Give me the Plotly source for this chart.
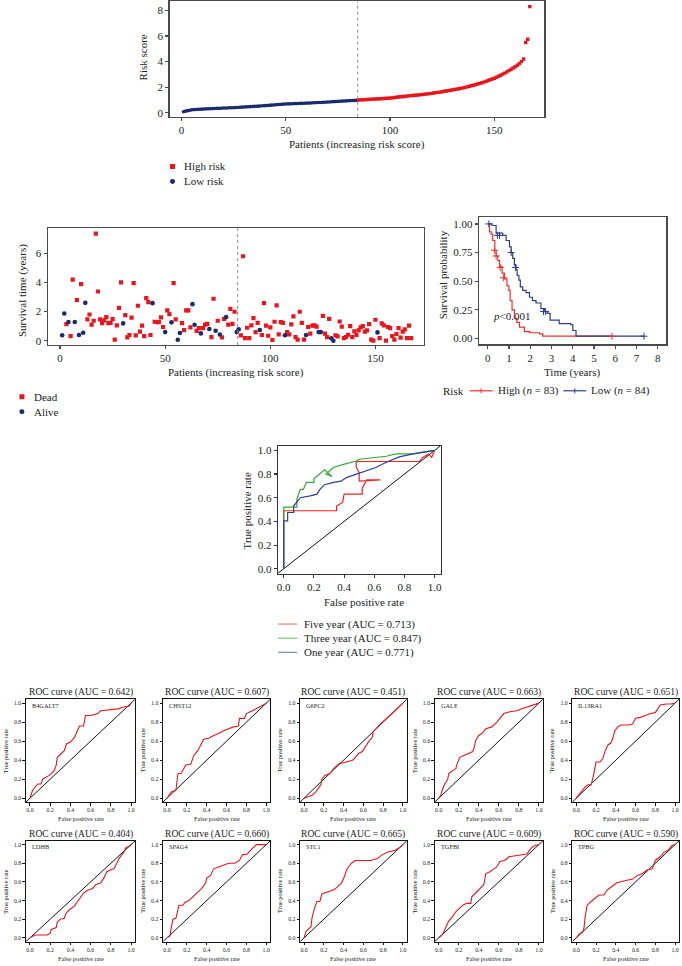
import plotly.graph_objects as go

W, H = 682, 966
FONT = "Liberation Serif"
RED = "#e8161c"
NAVY = "#1a2a6c"
TXT = "#222222"
FS = 11

# ---------------- data ----------------
risk_low = [0.08,0.13,0.17,0.20,0.23,0.25,0.26,0.27,0.28,0.29,
            0.30,0.31,0.32,0.32,0.33,0.34,0.35,0.35,0.36,0.37,
            0.37,0.38,0.39,0.40,0.40,0.41,0.42,0.43,0.44,0.45,
            0.46,0.47,0.48,0.49,0.50,0.51,0.52,0.53,0.55,0.56,
            0.57,0.58,0.60,0.61,0.62,0.64,0.65,0.66,0.68,0.69,
            0.70,0.70,0.71,0.72,0.72,0.73,0.74,0.74,0.75,0.76,
            0.76,0.77,0.78,0.79,0.80,0.80,0.81,0.82,0.83,0.84,
            0.85,0.86,0.87,0.88,0.89,0.90,0.91,0.92,0.93,0.94,
            0.95,0.96,0.97,0.98]
risk_high = [1.00,1.01,1.02,1.03,1.04,1.05,1.06,1.07,1.08,1.09,
             1.10,1.11,1.12,1.13,1.14,1.15,1.17,1.19,1.21,1.23,
             1.25,1.27,1.28,1.30,1.32,1.34,1.35,1.37,1.38,1.40,
             1.42,1.44,1.46,1.48,1.50,1.52,1.55,1.58,1.60,1.62,
             1.65,1.68,1.70,1.73,1.76,1.79,1.82,1.85,1.88,1.91,
             1.95,1.99,2.03,2.07,2.11,2.15,2.20,2.25,2.30,2.35,
             2.40,2.46,2.52,2.58,2.64,2.70,2.78,2.86,2.94,3.02,
             3.10,3.20,3.30,3.40,3.50,3.60,3.72,3.85,4.00,4.20,
             5.50,5.75,8.30]

surv_time = [0.37,1.87,1.14,1.28,0.32,4.2,1.28,2.78,0.39,3.88,0.55,2.6,1.46,1.8,1.1,1.37,7.35,3.38,1.46,1.21,
             1.39,1.62,1.21,1.23,1.48,0.07,1.05,2.26,4.0,1.19,1.76,0.23,0.39,1.58,3.95,0.37,2.4,0.62,1.03,0.32,
             2.92,2.65,0.39,2.58,1.3,1.28,1.28,1.6,0.94,0.59,2.08,1.83,1.26,3.95,1.46,0.07,0.53,1.21,0.73,2.08,
             2.08,0.91,2.51,1.1,0.68,0.87,0.5,0.87,1.1,1.16,0.8,0.25,2.88,0.68,1.37,0.43,0.23,1.5,1.62,1.1,
             2.19,1.16,1.99,0.59,0.78,0.37,5.8,0.18,0.89,0.18,1.05,1.55,0.59,1.23,0.73,0.39,2.58,1.03,0.34,0.91,
             0.05,1.3,2.42,0.43,1.28,1.23,0.37,0.59,0.43,1.12,1.67,0.25,0.07,1.99,1.23,0.07,0.39,0.94,0.48,1.03,
             1.05,0.96,0.59,0.59,1.71,0.48,0.25,1.5,0.16,0.0,0.37,0.3,1.32,0.96,0.18,0.25,0.41,1.0,0.25,0.64,
             0.39,0.71,0.91,1.0,0.62,0.71,1.14,0.07,0.0,1.44,0.57,0.18,1.19,1.05,0.0,0.94,0.87,0.32,0.07,0.46,
             0.87,0.21,0.62,0.78,0.18,1.03,0.18]
alive_patients = [1,2,4,7,9,11,12,30,44,50,53,56,57,63,64,67,71,74,76,79,84,85,95,107,117,123,124,129,130,151]

km_high_t = [0,0.08,0.16,0.23,0.33,0.39,0.47,0.55,0.67,0.78,0.9,0.99,1.05,1.14,1.25,1.36,1.49,1.72,1.96,2.43,2.58,5.84]
km_high_s = [1.0,0.93,0.91,0.855,0.77,0.72,0.68,0.63,0.57,0.52,0.46,0.42,0.33,0.25,0.175,0.14,0.10,0.06,0.05,0.04,0.02,0.02]
km_high_cens_t = [0.31,0.39,0.58,0.73,5.84]
km_high_cens_s = [0.77,0.72,0.62,0.53,0.02]
km_low_t = [0,0.2,0.39,0.7,0.86,1.02,1.1,1.17,1.25,1.33,1.38,1.46,1.53,1.64,1.8,1.96,2.1,2.27,2.5,2.66,2.8,2.93,3.36,3.9,4.0,4.15,7.35]
km_low_s = [1.0,0.986,0.92,0.9,0.855,0.8,0.75,0.7,0.64,0.6,0.55,0.51,0.45,0.42,0.4,0.36,0.33,0.31,0.26,0.235,0.22,0.16,0.13,0.12,0.07,0.02,0.02]
km_low_cens_t = [0.05,0.45,0.55,1.1,1.3,2.62,2.72,7.35]
km_low_cens_s = [1.0,0.9,0.9,0.75,0.62,0.235,0.235,0.02]

five_fpr = [0,0,0.35,0.35,0.39,0.40,0.52,0.52,0.55,0.64,0.50,0.50,0.48,0.48,0.90,0.92,0.96,0.98,1.0]
five_tpr = [0,0.49,0.49,0.53,0.56,0.63,0.63,0.68,0.75,0.75,0.74,0.81,0.86,0.906,0.906,0.94,0.97,0.94,1.0]
three_fpr = [0,0,0.087,0.087,0.11,0.13,0.15,0.2,0.2,0.24,0.27,0.32,0.28,0.33,0.39,0.48,0.5,0.68,0.74,0.85,1.0]
three_tpr = [0,0.52,0.52,0.59,0.67,0.67,0.73,0.73,0.76,0.8,0.835,0.78,0.8,0.855,0.88,0.91,0.925,0.95,0.97,0.97,1.0]
one_fpr = [0,0,0.026,0.026,0.066,0.066,0.09,0.11,0.175,0.22,0.24,0.27,0.33,0.38,0.415,0.48,0.546,0.61,0.68,0.765,0.85,0.96,1.0]
one_tpr = [0,0.405,0.405,0.475,0.475,0.53,0.57,0.6,0.616,0.63,0.67,0.71,0.73,0.74,0.77,0.8,0.827,0.855,0.9,0.945,0.968,0.99,1.0]
roc_labels = ["Five year (AUC = 0.713)", "Three year (AUC = 0.847)", "One year (AUC = 0.771)"]

genes = ["B4GALT7","CHST12","G6PC2","GALE","IL13RA1","LDHB","SPAG4","STC1","TGFBI","TPBG"]
gene_auc = ["0.642","0.607","0.451","0.663","0.651","0.404","0.660","0.665","0.609","0.590"]
b4galt7_fpr = [0,0.026,0.076,0.11,0.125,0.16,0.19,0.22,0.24,0.26,0.27,0.31,0.34,0.36,0.4,0.44,0.47,0.49,0.53,0.55,0.6,0.67,0.7,0.77,0.87,0.93,0.98,1]
b4galt7_tpr = [0,0.084,0.15,0.15,0.2,0.22,0.24,0.27,0.29,0.35,0.43,0.47,0.5,0.57,0.59,0.64,0.71,0.76,0.76,0.87,0.87,0.89,0.92,0.93,0.94,0.96,0.97,1]
chst12_fpr = [0,0.043,0.09,0.11,0.14,0.19,0.24,0.27,0.31,0.34,0.37,0.42,0.47,0.52,0.57,0.62,0.67,0.72,0.73,0.78,0.8,0.86,0.9,0.95,1]
chst12_tpr = [0,0.066,0.084,0.26,0.26,0.35,0.36,0.45,0.5,0.56,0.62,0.63,0.66,0.68,0.71,0.73,0.75,0.76,0.84,0.84,0.89,0.92,0.94,0.97,1]
g6pc2_fpr = [0,0.08,0.12,0.17,0.18,0.21,0.26,0.3,0.35,0.42,0.49,0.52,0.55,0.59,0.62,0.65,0.69,0.7,0.77,0.84,0.9,0.97,1]
g6pc2_tpr = [0,0.03,0.07,0.14,0.2,0.24,0.26,0.31,0.36,0.38,0.4,0.43,0.47,0.49,0.54,0.59,0.64,0.7,0.78,0.84,0.9,0.97,1]
gale_fpr = [0,0.02,0.04,0.06,0.09,0.1,0.14,0.17,0.19,0.21,0.25,0.3,0.34,0.35,0.37,0.4,0.43,0.47,0.53,0.58,0.62,0.65,0.71,0.78,0.83,0.88,0.94,1]
gale_tpr = [0,0.03,0.1,0.15,0.2,0.26,0.29,0.31,0.38,0.43,0.45,0.47,0.49,0.52,0.61,0.66,0.68,0.73,0.75,0.8,0.85,0.89,0.91,0.92,0.94,0.96,0.98,1]
il13ra1_fpr = [0,0.02,0.06,0.09,0.12,0.15,0.17,0.2,0.24,0.27,0.29,0.32,0.35,0.37,0.39,0.42,0.45,0.53,0.57,0.6,0.65,0.7,0.75,0.8,0.85,0.91,0.96,1]
il13ra1_tpr = [0,0.03,0.08,0.12,0.14,0.14,0.22,0.38,0.38,0.42,0.49,0.56,0.58,0.63,0.71,0.75,0.77,0.77,0.78,0.84,0.85,0.87,0.89,0.9,0.98,0.99,0.99,1]
ldhb_fpr = [0,0.03,0.06,0.17,0.2,0.21,0.26,0.27,0.3,0.34,0.35,0.37,0.4,0.44,0.47,0.5,0.53,0.57,0.62,0.65,0.7,0.73,0.76,0.8,0.83,0.85,0.88,0.93,0.95,0.98,1]
ldhb_tpr = [0,0.02,0.03,0.03,0.05,0.09,0.11,0.17,0.2,0.21,0.25,0.28,0.31,0.34,0.39,0.43,0.48,0.51,0.53,0.57,0.59,0.64,0.71,0.73,0.74,0.78,0.85,0.92,0.97,0.98,1]
spag4_fpr = [0,0.03,0.04,0.06,0.09,0.11,0.12,0.16,0.18,0.22,0.26,0.29,0.32,0.35,0.39,0.4,0.44,0.47,0.52,0.57,0.62,0.68,0.73,0.76,0.81,0.86,0.9,1]
spag4_tpr = [0,0.02,0.09,0.2,0.21,0.3,0.35,0.35,0.38,0.4,0.44,0.47,0.5,0.53,0.59,0.64,0.67,0.74,0.76,0.78,0.8,0.8,0.83,0.89,0.9,0.96,1.0,1]
stc1_fpr = [0,0.02,0.07,0.08,0.1,0.13,0.16,0.18,0.26,0.31,0.34,0.38,0.41,0.43,0.45,0.48,0.52,0.57,0.67,0.74,0.79,0.85,0.92,0.97,1]
stc1_tpr = [0,0.07,0.12,0.21,0.3,0.39,0.39,0.47,0.5,0.52,0.55,0.59,0.66,0.73,0.76,0.8,0.83,0.83,0.83,0.85,0.89,0.92,0.94,0.97,1]
tgfbi_fpr = [0,0.04,0.06,0.08,0.1,0.14,0.17,0.2,0.24,0.28,0.32,0.33,0.37,0.4,0.42,0.45,0.47,0.51,0.55,0.58,0.61,0.66,0.7,0.76,0.81,0.88,0.92,0.96,1]
tgfbi_tpr = [0,0.04,0.09,0.14,0.18,0.23,0.28,0.31,0.35,0.37,0.37,0.44,0.48,0.51,0.53,0.57,0.69,0.71,0.74,0.76,0.82,0.83,0.87,0.88,0.89,0.9,0.96,0.99,1]
tpbg_fpr = [0,0.03,0.07,0.08,0.09,0.11,0.15,0.2,0.23,0.28,0.31,0.36,0.41,0.48,0.57,0.62,0.67,0.72,0.77,0.8,0.85,0.89,0.93,0.97,1]
tpbg_tpr = [0,0.04,0.07,0.12,0.23,0.35,0.39,0.44,0.46,0.46,0.51,0.55,0.59,0.61,0.63,0.67,0.69,0.73,0.74,0.83,0.87,0.92,0.94,0.99,1]
gene_fpr = [b4galt7_fpr, chst12_fpr, g6pc2_fpr, gale_fpr, il13ra1_fpr, ldhb_fpr, spag4_fpr, stc1_fpr, tgfbi_fpr, tpbg_fpr]
gene_tpr = [b4galt7_tpr, chst12_tpr, g6pc2_tpr, gale_tpr, il13ra1_tpr, ldhb_tpr, spag4_tpr, stc1_tpr, tgfbi_tpr, tpbg_tpr]

# ---------------- helpers ----------------
fig = go.Figure()
_n = [0]


def P(x, y):
    return x / W, 1 - y / H


def text(x, y, s, size, xanchor="center", yanchor="middle", angle=0, color=TXT):
    px, py = P(x, y)
    fig.add_annotation(x=px, y=py, xref="paper", yref="paper", text=s, showarrow=False,
                       font=dict(size=size, family=FONT, color=color), xanchor=xanchor,
                       yanchor=yanchor, textangle=angle)


def axes(box, xr, yr, xticks, yticks, xtext, ytext, tick_size, line_color, lw, ticklen=3):
    _n[0] += 1
    sfx = "" if _n[0] == 1 else str(_n[0])
    left, right, top, bottom = box
    common = dict(showline=True, mirror=True, linecolor=line_color, linewidth=lw, ticks="outside",
                  ticklen=ticklen, tickwidth=lw, tickcolor=line_color, showgrid=False, zeroline=False,
                  tickfont=dict(family=FONT, size=tick_size, color=TXT), fixedrange=True)
    fig.update_layout(**{
        "xaxis" + sfx: dict(domain=[left / W, right / W], range=xr, anchor="y" + sfx,
                            tickmode="array", tickvals=xticks, ticktext=xtext, **common),
        "yaxis" + sfx: dict(domain=[1 - bottom / H, 1 - top / H], range=yr, anchor="x" + sfx,
                            tickmode="array", tickvals=yticks, ticktext=ytext, **common),
    })
    return "x" + sfx, "y" + sfx


def pshape(kind, x0, y0, x1, y1, **kw):
    a, b = P(x0, y0)
    c, d = P(x1, y1)
    fig.add_shape(type=kind, xref="paper", yref="paper", x0=a, y0=b, x1=c, y1=d, **kw)


# ---------------- Panel A: risk score ----------------
n_low = len(risk_low)
n_all = n_low + len(risk_high)
xa, ya = axes((169, 545, 0.5, 116), [-5.7, 174], [-0.3, 8.7], [0, 50, 100, 150], [0, 2, 4, 6, 8],
              None, None, FS, "#4a4a4a", 1.3)
fig.add_trace(go.Scatter(x=list(range(1, n_low + 1)), y=risk_low, mode="markers", xaxis=xa, yaxis=ya,
                         marker=dict(symbol="circle", size=3.6, color=NAVY), showlegend=False))
fig.add_trace(go.Scatter(x=list(range(n_low + 1, n_all + 1)), y=risk_high, mode="markers", xaxis=xa, yaxis=ya,
                         marker=dict(symbol="square", size=3.4, color=RED), showlegend=False))
fig.add_shape(type="line", xref=xa, yref=ya + " domain", x0=n_low + 0.5, x1=n_low + 0.5, y0=0, y1=1,
              line=dict(color="#888888", width=1, dash="dot"))
text(142, 57, "Risk score", FS, angle=-90)
text(357, 144, "Patients (increasing risk score)", FS)
pshape("rect", 169.5, 163.5, 174.5, 168.5, fillcolor=RED, line=dict(width=0))
text(182, 166, "High risk", FS, xanchor="left")
pshape("circle", 169.5, 178.5, 174.5, 183.5, fillcolor=NAVY, line=dict(width=0))
text(182, 181, "Low risk", FS, xanchor="left")

# ---------------- Panel B: survival scatter ----------------
xb, yb = axes((47, 424, 228, 345), [-5.8, 173], [-0.29, 7.72], [0, 50, 100, 150], [0, 2, 4, 6],
              None, None, FS, "#4a4a4a", 1.3)
pat = list(range(1, len(surv_time) + 1))
dead_x = [p for p in pat if p not in alive_patients]
alive_x = [p for p in pat if p in alive_patients]
fig.add_trace(go.Scatter(x=dead_x, y=[surv_time[p - 1] for p in dead_x], mode="markers", xaxis=xb, yaxis=yb,
                         marker=dict(symbol="square", size=4.2, color=RED), showlegend=False))
fig.add_trace(go.Scatter(x=alive_x, y=[surv_time[p - 1] for p in alive_x], mode="markers", xaxis=xb, yaxis=yb,
                         marker=dict(symbol="circle", size=4.6, color=NAVY), showlegend=False))
fig.add_shape(type="line", xref=xb, yref=yb + " domain", x0=n_low + 0.5, x1=n_low + 0.5, y0=0, y1=1,
              line=dict(color="#888888", width=1, dash="dot"))
text(21, 290, "Survival time (years)", FS, angle=-90)
text(236, 373, "Patients (increasing risk score)", FS)
pshape("rect", 18.5, 394.5, 23.5, 399.5, fillcolor=RED, line=dict(width=0))
text(31, 397, "Dead", FS, xanchor="left")
pshape("circle", 18.5, 409.5, 23.5, 414.5, fillcolor=NAVY, line=dict(width=0))
text(31, 412, "Alive", FS, xanchor="left")

# ---------------- Panel C: Kaplan-Meier ----------------
KM_RED = "#f0302a"
KM_BLUE = "#2c3c8e"
xc, yc = axes((479.3, 667.3, 216.7, 344.3), [-0.42, 8.4], [-0.05, 1.06], list(range(9)),
              [0, 0.25, 0.5, 0.75, 1.0], None, ["0.00", "0.25", "0.50", "0.75", "1.00"],
              FS, "#4a4a4a", 1.3)
fig.add_trace(go.Scatter(x=km_high_t, y=km_high_s, mode="lines", line=dict(color=KM_RED, width=1.2, shape="hv"),
                         xaxis=xc, yaxis=yc, showlegend=False))
fig.add_trace(go.Scatter(x=km_low_t, y=km_low_s, mode="lines", line=dict(color=KM_BLUE, width=1.2, shape="hv"),
                         xaxis=xc, yaxis=yc, showlegend=False))
fig.add_trace(go.Scatter(x=km_high_cens_t, y=km_high_cens_s, mode="markers", xaxis=xc, yaxis=yc, showlegend=False,
                         marker=dict(symbol="cross-thin", size=5, line=dict(color=KM_RED, width=1))))
fig.add_trace(go.Scatter(x=km_low_cens_t, y=km_low_cens_s, mode="markers", xaxis=xc, yaxis=yc, showlegend=False,
                         marker=dict(symbol="cross-thin", size=5, line=dict(color=KM_BLUE, width=1))))
fig.add_annotation(x=0.15, y=0.2, xref=xc, yref=yc, text="<i>p</i>&lt;0.001", showarrow=False,
                   xanchor="left", yanchor="middle", font=dict(family=FONT, size=FS, color=TXT))
text(443.3, 275, "Survival probability", FS, angle=-90)
text(573, 373, "Time (years)", FS)
text(441, 391, "Risk", FS, xanchor="left")
pshape("line", 470, 391, 493, 391, line=dict(color=KM_RED, width=1.2))
pshape("line", 481.5, 388.5, 481.5, 393.5, line=dict(color=KM_RED, width=1))
text(496, 391, "High (<i>n</i> = 83)", FS, xanchor="left")
pshape("line", 564, 391, 587, 391, line=dict(color=KM_BLUE, width=1.2))
pshape("line", 575.5, 388.5, 575.5, 393.5, line=dict(color=KM_BLUE, width=1))
text(590, 391, "Low (<i>n</i> = 84)", FS, xanchor="left")

# ---------------- Panel D: time-dependent ROC ----------------
ROC_RED = "#ee2222"
ROC_GREEN = "#3aa53a"
ROC_BLUE = "#2b3d96"
tk = [0, 0.2, 0.4, 0.6, 0.8, 1.0]
tkt = ["0.0", "0.2", "0.4", "0.6", "0.8", "1.0"]
xd, yd = axes((277.5, 441, 446, 574.3), [-0.04, 1.04], [-0.04, 1.04], tk, tk, tkt, tkt, FS, "#333333", 1.1)
fig.add_trace(go.Scatter(x=[-0.04, 1.04], y=[-0.04, 1.04], mode="lines", line=dict(color="#111111", width=1),
                         xaxis=xd, yaxis=yd, showlegend=False))
for fx, ty, col in [(five_fpr, five_tpr, ROC_RED), (three_fpr, three_tpr, ROC_GREEN), (one_fpr, one_tpr, ROC_BLUE)]:
    fig.add_trace(go.Scatter(x=fx, y=ty, mode="lines", line=dict(color=col, width=1.2), xaxis=xd, yaxis=yd,
                             showlegend=False))
text(246.7, 511, "True positive rate", FS, angle=-90)
text(364.5, 603, "False positive rate", FS)
for i, (lab, col) in enumerate(zip(roc_labels, ["#f28a8a", "#86c886", "#8290c8"])):
    yy = 625 + i * 14.2
    pshape("line", 278, yy, 297, yy, line=dict(color=col, width=1.3))
    text(302, yy, lab, FS, xanchor="left")

# ---------------- Gene ROC panels ----------------
lefts = [25, 162.5, 300, 435, 573]
rights = [134.5, 270, 407, 543.5, 680]
rows = [(700.5, 803.5), (842.5, 943.5)]
for i, g in enumerate(genes):
    r, c = divmod(i, 5)
    top, bot = rows[r]
    L, R = lefts[c], rights[c]
    xg, yg = axes((L, R, top, bot), [-0.04, 1.04], [-0.04, 1.04], tk, tk, tkt, tkt, 5.8, "#111111", 1.0, ticklen=2.5)
    fig.add_trace(go.Scatter(x=[-0.04, 1.04], y=[-0.04, 1.04], mode="lines", line=dict(color="#111111", width=1),
                             xaxis=xg, yaxis=yg, showlegend=False))
    fig.add_trace(go.Scatter(x=gene_fpr[i], y=gene_tpr[i], mode="lines", line=dict(color=RED, width=1.1),
                             xaxis=xg, yaxis=yg, showlegend=False))
    text((L + R) / 2, top - 7, "ROC curve (AUC = %s)" % gene_auc[i], 9.6)
    text(L + 4, top + 6, g, 6.3, xanchor="left")
    text(L - 20.5, (top + bot) / 2, "True positive rate", 6.3, angle=-90)
    text((L + R) / 2, bot + 17, "False positive rate", 6.3)

fig.update_layout(width=W, height=H, margin=dict(l=0, r=0, t=0, b=0), paper_bgcolor="white",
                  plot_bgcolor="white", showlegend=False, font=dict(family=FONT, color=TXT))
fig.write_html("out.html", config={"displayModeBar": False, "staticPlot": True},
               post_script="document.body.style.margin='0';document.body.style.overflow='hidden';")
